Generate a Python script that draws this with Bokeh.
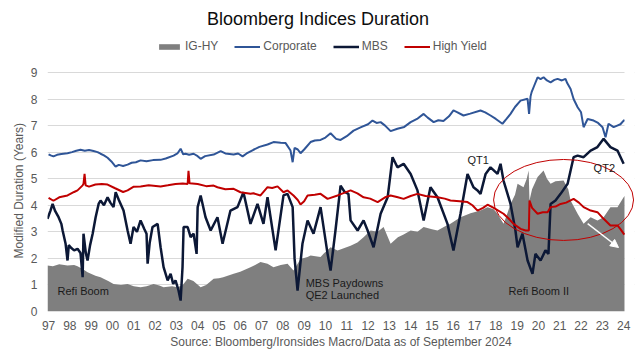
from bokeh.plotting import figure
from bokeh.models import Range1d, Label, Legend, LegendItem, Arrow, NormalHead, FixedTicker, BoxAnnotation
from bokeh.embed import file_html
from bokeh.resources import INLINE

FONT = "Liberation Sans"

# x positions are in axis units: 0 = "97" label, 27 = "24" label
year_labels = ["97", "98", "99", "00", "01", "02", "03", "04", "05", "06", "07", "08", "09", "10",
               "11", "12", "13", "14", "15", "16", "17", "18", "19", "20", "21", "22", "23", "24"]
y_ticks = [0, 1, 2, 3, 4, 5, 6, 7, 8, 9]

corp_t = [0.00, 0.10, 0.23, 0.40, 0.60, 0.89, 1.10, 1.30, 1.50, 1.70, 1.90, 2.11, 2.30, 2.44, 2.60, 2.77,
          2.95, 3.10, 3.15, 3.30, 3.50, 3.71, 3.90, 4.10, 4.32, 4.60, 4.90, 5.26, 5.50, 5.87, 6.05, 6.20,
          6.32, 6.43, 6.60, 6.81, 7.00, 7.14, 7.35, 7.75, 8.08, 8.30, 8.69, 8.90, 9.11, 9.30, 9.62, 9.90,
          10.28, 10.56, 10.90, 11.13, 11.36, 11.46, 11.55, 11.70, 11.83, 12.00, 12.30, 12.50, 12.77, 13.00,
          13.24, 13.50, 13.71, 14.00, 14.32, 14.70, 15.00, 15.21, 15.40, 15.59, 15.80, 16.06, 16.38, 16.70,
          17.00, 17.30, 17.61, 17.80, 18.08, 18.30, 18.54, 18.80, 19.01, 19.20, 19.48, 19.80, 20.28, 20.50,
          20.75, 21.00, 21.31, 21.50, 21.69, 21.90, 22.16, 22.49, 22.56, 22.63, 22.68, 22.80, 22.96, 23.10,
          23.24, 23.40, 23.57, 23.75, 23.90, 24.10, 24.27, 24.35, 24.51, 24.65, 24.84, 25.00, 25.12, 25.31,
          25.59, 25.80, 26.01, 26.15, 26.29, 26.53, 26.70, 26.85, 27.00, 27.04]
corp_v = [5.92, 5.88, 5.84, 5.90, 5.93, 5.96, 6.00, 6.05, 6.09, 6.05, 6.08, 6.04, 6.00, 5.94, 5.88, 5.79,
          5.65, 5.50, 5.46, 5.52, 5.48, 5.53, 5.60, 5.62, 5.69, 5.66, 5.70, 5.71, 5.76, 5.87, 5.95, 6.13,
          5.92, 5.94, 5.90, 5.94, 5.85, 5.75, 5.85, 5.91, 6.04, 5.95, 5.91, 5.95, 5.84, 5.95, 6.09, 6.20,
          6.29, 6.38, 6.35, 6.34, 6.06, 5.62, 6.16, 6.10, 5.96, 6.10, 6.38, 6.44, 6.46, 6.55,
          6.71, 6.50, 6.46, 6.60, 6.81, 6.95, 7.05, 7.19, 7.10, 7.13, 7.00, 6.79, 6.88, 6.95,
          7.13, 7.25, 7.44, 7.30, 7.13, 7.20, 7.17, 7.35, 7.57, 7.50, 7.38, 7.45, 7.57, 7.50,
          7.38, 7.25, 7.07, 7.25, 7.44, 7.70, 7.94, 8.01, 7.44, 8.10, 8.26, 8.50, 8.82, 8.75,
          8.82, 8.70, 8.63, 8.72, 8.76, 8.70, 8.76, 8.60, 8.38, 8.00, 7.69, 7.50, 6.94, 7.25,
          7.19, 7.10, 6.94, 6.56, 7.07, 6.94, 7.00, 7.05, 7.19, 7.20]

hy_t = [0.00, 0.23, 0.50, 0.89, 1.20, 1.36, 1.60, 1.64, 1.69, 1.74, 1.90, 2.20, 2.50, 2.77, 3.10, 3.50,
        3.71, 4.00, 4.32, 4.70, 5.26, 5.60, 5.96, 6.30, 6.53, 6.57, 6.62, 7.00, 7.40, 7.75, 7.93, 8.30,
        8.69, 9.01, 9.48, 9.62, 9.95, 10.28, 10.50, 10.75, 11.03, 11.22, 11.50, 11.70, 11.83, 12.00,
        12.16, 12.50, 12.77, 13.10, 13.57, 14.18, 14.50, 14.79, 15.10, 15.45, 15.80, 16.06, 16.40, 16.67,
        17.00, 17.32, 17.70, 18.26, 18.60, 18.87, 19.30, 19.67, 19.90, 20.14, 20.40, 20.61, 20.90, 21.36,
        21.60, 21.83, 22.16, 22.40, 22.55, 22.58, 22.70, 22.96, 23.20, 23.43, 23.57, 23.80, 24.04, 24.30,
        24.65, 24.90, 25.12, 25.45, 25.77, 26.06, 26.38, 26.71, 26.85, 27.00, 27.04]
hy_v = [4.28, 4.17, 4.30, 4.37, 4.50, 4.56, 4.75, 4.81, 5.18, 4.75, 4.70, 4.78, 4.80, 4.78, 4.65, 4.50,
        4.56, 4.70, 4.71, 4.75, 4.71, 4.75, 4.80, 4.82, 4.80, 5.30, 4.83, 4.80, 4.72, 4.74, 4.68, 4.60,
        4.62, 4.49, 4.43, 4.45, 4.37, 4.68, 4.65, 4.71, 4.49, 4.56, 4.37, 4.20, 4.03, 4.15,
        4.37, 4.40, 4.43, 4.24, 4.37, 4.56, 4.45, 4.30, 4.25, 4.12, 4.30, 4.37, 4.30, 4.24,
        4.35, 4.43, 4.35, 4.30, 4.25, 4.18, 4.15, 4.12, 4.00, 3.80, 3.90, 4.02, 3.90, 3.68,
        3.50, 3.30, 3.11, 3.05, 3.05, 4.18, 3.90, 3.68, 3.74, 3.74, 3.93, 3.95, 4.05, 4.10,
        4.24, 4.10, 3.93, 3.80, 3.74, 3.49, 3.24, 3.24, 3.10, 2.93, 2.90]

mbs_t = [-0.05, 0.09, 0.19, 0.30, 0.47, 0.60, 0.66, 0.80, 0.89, 0.95, 1.03, 1.20, 1.36, 1.50, 1.60, 1.64,
         1.75, 1.83, 1.95, 2.07, 2.21, 2.35, 2.44, 2.60, 2.77, 2.90, 3.05, 3.15, 3.30, 3.52, 3.71, 3.85,
         3.99, 4.15, 4.32, 4.50, 4.60, 4.65, 4.75, 4.88, 5.12, 5.26, 5.40, 5.59, 5.73, 5.85, 5.96, 6.10,
         6.20, 6.29, 6.34, 6.53, 6.67, 6.81, 6.95, 7.00, 7.14, 7.37, 7.61, 7.93, 8.17, 8.54, 8.87, 9.15,
         9.48, 9.81, 10.09, 10.28, 10.66, 11.03, 11.22, 11.46, 11.55, 11.69, 11.92, 12.16, 12.44, 12.77,
         13.10, 13.24, 13.47, 13.71, 13.90, 14.08, 14.18, 14.51, 14.79, 14.98, 15.26, 15.59, 15.92, 16.15,
         16.38, 16.67, 17.00, 17.32, 17.61, 17.93, 18.26, 18.73, 19.01, 19.34, 19.67, 19.81, 19.95, 20.14,
         20.28, 20.52, 20.75, 21.08, 21.22, 21.36, 21.69, 21.92, 22.02, 22.25, 22.49, 22.72, 22.86, 23.10,
         23.33, 23.47, 23.57, 23.80, 24.04, 24.37, 24.51, 24.65, 24.84, 25.12, 25.45, 25.77, 26.06, 26.38,
         26.71, 27.00]
mbs_v = [3.49, 3.80, 4.05, 3.80, 3.55, 3.30, 3.05, 2.55, 1.92, 2.50, 2.42, 2.30, 2.36, 2.20, 1.29, 2.93,
         2.20, 1.92, 2.50, 2.93, 3.55, 4.05, 4.18, 4.00, 4.30, 4.10, 3.93, 4.49, 4.20, 3.80, 3.05, 2.55,
         3.18, 3.00, 3.43, 3.10, 2.93, 1.80, 2.60, 3.18, 3.30, 2.42, 1.67, 1.17, 1.42, 1.04, 1.17, 0.80,
         0.41, 1.67, 3.18, 3.18, 2.80, 2.93, 2.17, 3.93, 4.37, 3.55, 3.05, 3.55, 2.55, 3.80, 3.93, 4.49,
         3.30, 4.05, 3.30, 4.30, 2.30, 4.37, 4.43, 3.93, 2.00, 0.79, 2.55, 3.43, 2.93, 3.93,
         2.17, 1.54, 3.05, 4.74, 4.50, 4.43, 3.43, 3.05, 3.43, 3.05, 2.42, 3.68, 4.30, 5.81,
         5.43, 5.56, 5.18, 4.56, 3.43, 4.68, 4.30, 3.30, 2.30, 3.68, 5.18, 4.93, 4.68, 4.56,
         4.43, 5.18, 5.43, 5.18, 5.56, 4.93, 4.05, 3.05, 2.42, 2.93, 1.92, 1.42, 2.17, 1.92,
         2.30, 2.17, 4.05, 4.18, 4.43, 4.81, 5.31, 5.81, 5.87, 5.81, 6.06, 6.19, 6.50, 6.19,
         6.06, 5.56]

ighy_t = [-0.05, 0.20, 0.50, 0.89, 1.20, 1.36, 1.60, 1.83, 2.20, 2.44, 2.80, 3.05, 3.40, 3.71, 4.00, 4.32,
          4.60, 4.93, 5.20, 5.40, 5.80, 6.06, 6.30, 6.53, 6.80, 7.14, 7.40, 7.75, 8.00, 8.20, 8.69, 9.00,
          9.48, 9.70, 9.95, 10.28, 10.56, 10.90, 11.22, 11.50, 11.83, 12.16, 12.30, 12.77, 12.91, 13.24,
          13.57, 14.18, 14.50, 14.79, 15.12, 15.45, 15.73, 16.06, 16.40, 16.67, 17.00, 17.32, 17.61, 18.00,
          18.26, 18.60, 18.87, 19.34, 19.81, 20.28, 20.61, 20.90, 21.08, 21.36, 21.50, 21.69, 21.90, 22.02,
          22.30, 22.45, 22.54, 22.58, 22.70, 22.96, 23.24, 23.40, 23.57, 23.80, 24.18, 24.40, 24.51, 24.84,
          25.12, 25.45, 25.77, 26.06, 26.38, 26.71, 27.00, 27.04]
ighy_v = [1.73, 1.70, 1.78, 1.73, 1.75, 1.70, 1.60, 1.48, 1.35, 1.29, 1.15, 1.04, 1.00, 1.04, 0.95, 0.91,
          0.95, 1.04, 0.98, 0.91, 0.95, 0.91, 1.00, 1.23, 1.15, 0.91, 1.00, 1.23, 1.25, 1.29, 1.42, 1.50,
          1.67, 1.75, 1.86, 1.80, 1.67, 1.75, 1.80, 1.54, 1.98, 2.05, 2.11, 2.05, 2.17, 2.42,
          2.30, 2.48, 2.60, 2.80, 3.05, 3.00, 3.18, 2.55, 2.80, 2.90, 3.05, 3.00, 3.18, 3.10,
          3.05, 3.20, 3.30, 3.55, 3.70, 3.80, 3.93, 3.85, 3.68, 3.30, 3.60, 4.05, 4.40, 4.81,
          4.68, 5.00, 5.31, 4.18, 4.60, 5.06, 5.31, 5.00, 4.81, 4.90, 4.93, 4.60, 4.18, 3.68,
          3.30, 3.55, 3.43, 3.55, 3.93, 3.93, 4.30, 4.35]

# frame spans the whole upper area so the title and legend sit inside it; ticks stop at 9
p = figure(width=635, height=354, output_backend="svg", toolbar_location=None,
           x_range=Range1d(-0.05, 27.51), y_range=Range1d(0, 11.71),
           min_border_left=47, min_border_right=1, min_border_top=0, min_border_bottom=43,
           title_location="left")
p.outline_line_color = None
p.background_fill_color = "white"
p.border_fill_color = "white"

# y-axis caption placed as a side title so that it centres on the 0-9 span
p.title.text = "Modified Duration (Years)"
p.title.text_font = FONT
p.title.text_font_size = "12px"
p.title.text_font_style = "normal"
p.title.text_color = "#595959"
p.title.align = "left"
p.title.offset = 53
p.title.standoff = 4

p.xgrid.visible = False
p.ygrid.grid_line_color = "#D9D9D9"
p.ygrid.grid_line_width = 1
p.add_layout(BoxAnnotation(left=27.04, fill_color="white", fill_alpha=1, line_alpha=0, level="underlay"))

p.xaxis.ticker = FixedTicker(ticks=list(range(len(year_labels))))
p.xaxis.major_label_overrides = {i: lab for i, lab in enumerate(year_labels)}
p.yaxis.ticker = FixedTicker(ticks=y_ticks)
for ax in (p.xaxis[0], p.yaxis[0]):
    ax.axis_line_color = None
    ax.major_tick_line_color = None
    ax.minor_tick_line_color = None
    ax.major_tick_out = 0
    ax.major_tick_in = 0
    ax.major_label_text_font = FONT
    ax.major_label_text_font_size = "12px"
    ax.major_label_text_color = "#595959"
    ax.axis_label_text_font = FONT
    ax.axis_label_text_font_size = "12px"
    ax.axis_label_text_font_style = "normal"
    ax.axis_label_text_color = "#595959"
p.xaxis.major_label_standoff = 9
p.yaxis.major_label_standoff = 10
p.xaxis.axis_label = "Source: Bloomberg/Ironsides Macro/Data as of September 2024"
p.xaxis.axis_label_standoff = 2

r_area = p.varea(x=ighy_t, y1=0, y2=ighy_v, fill_color="#7F7F7F")
r_corp = p.line(corp_t, corp_v, line_color="#2F5597", line_width=2)
r_mbs = p.line(mbs_t, mbs_v, line_color="#0C1836", line_width=2.5)
r_hy = p.line(hy_t, hy_v, line_color="#C00000", line_width=2)

p.ellipse(x=[24.18], y=[4.2], width=[6.57], height=[3.05], fill_alpha=0,
          line_color="#C00000", line_width=1)
p.add_layout(Arrow(end=NormalHead(size=8, fill_color="white", line_color="white"),
                   x_start=25.31, y_start=3.31, x_end=26.76, y_end=2.41,
                   line_color="white", line_width=1.5))

legend = Legend(items=[LegendItem(label="IG-HY", renderers=[r_area]),
                       LegendItem(label="Corporate", renderers=[r_corp]),
                       LegendItem(label="MBS", renderers=[r_mbs]),
                       LegendItem(label="High Yield", renderers=[r_hy])],
                location=(109, 258), orientation="horizontal",
                glyph_width=26, glyph_height=7, label_height=12, label_standoff=3,
                spacing=16, padding=0, margin=0, border_line_color=None,
                background_fill_alpha=0,
                label_text_font=FONT, label_text_font_size="12px", label_text_color="#595959")
p.add_layout(legend)


def note(x, y, text, size="11px", color="#1A1A1A", align="left"):
    p.add_layout(Label(x=x, y=y, text=text, text_font=FONT, text_font_size=size,
                       text_color=color, text_align=align, text_baseline="middle"))


note(12.65, 11.03, "Bloomberg Indices Duration", size="18px", color="#0D0D0D", align="center")
note(0.42, 0.79, "Refi Boom")
note(12.07, 1.09, "MBS Paydowns")
note(12.07, 0.64, "QE2 Launched")
note(21.6, 0.79, "Refi Boom II")
note(19.67, 5.69, "QT1")
note(25.59, 5.42, "QT2")

open("out.html", "w").write(file_html(p, INLINE))
